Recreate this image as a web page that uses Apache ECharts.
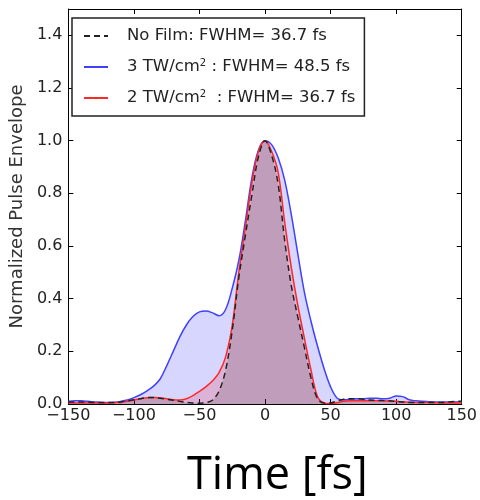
<!DOCTYPE html>
<html>
<head>
<meta charset="utf-8">
<script src="https://cdn.jsdelivr.net/npm/echarts@6/dist/echarts.min.js"></script>
<style>
html,body{margin:0;padding:0;background:#fff;}
#chart{width:480px;height:500px;}
</style>
</head>
<body>
<div id="chart"></div>
<script>
// Time axis (fs)
var timeFs = [-150,-145,-140,-135,-130,-125,-120,-115,-110,-105,-100,-95,-90,-85,-80,-75,-70,-65,-60,-55,-50,-45,-40,-35,-30,-25,-20,-15,-10,-5,0,5,10,15,20,25,30,35,40,45,50,55,60,65,70,75,80,85,90,95,100,105,110,115,120,125,130,135,140,145,150];

// 3 TW/cm2
var blueVals = [0.010,0.012,0.012,0.010,0.008,0.006,0.006,0.007,0.010,0.015,0.024,0.035,0.050,0.068,0.095,0.145,0.200,0.255,0.300,0.332,0.350,0.353,0.346,0.335,0.360,0.440,0.545,0.695,0.860,0.965,1.000,0.985,0.935,0.850,0.720,0.570,0.425,0.315,0.220,0.135,0.065,0.022,0.016,0.018,0.020,0.020,0.022,0.022,0.020,0.022,0.030,0.028,0.016,0.012,0.010,0.009,0.008,0.008,0.008,0.008,0.008];

// 2 TW/cm2
var redVals = [0.004,0.004,0.004,0.004,0.004,0.004,0.004,0.005,0.006,0.010,0.015,0.020,0.024,0.025,0.023,0.020,0.016,0.015,0.020,0.032,0.048,0.066,0.088,0.120,0.180,0.300,0.500,0.670,0.840,0.960,1.000,0.960,0.880,0.690,0.520,0.375,0.250,0.130,0.028,0.004,0.002,0.005,0.010,0.012,0.012,0.012,0.012,0.012,0.012,0.011,0.010,0.008,0.007,0.006,0.006,0.006,0.005,0.004,0.004,0.004,0.004];

// No film
var noFilmVals = [0.008,0.008,0.008,0.007,0.006,0.006,0.006,0.006,0.008,0.012,0.016,0.020,0.024,0.025,0.022,0.018,0.014,0.010,0.006,0.004,0.003,0.005,0.015,0.050,0.130,0.280,0.480,0.640,0.795,0.940,1.000,0.945,0.835,0.620,0.450,0.330,0.215,0.100,0.020,0.004,0.004,0.012,0.018,0.020,0.020,0.018,0.015,0.014,0.013,0.012,0.010,0.008,0.006,0.006,0.006,0.006,0.006,0.006,0.008,0.010,0.010];

var xTicks = [-150,-100,-50,0,50,100,150];
var yTicks = [0.0,0.2,0.4,0.6,0.8,1.0,1.2,1.4];

function pairs(vals){ return timeFs.map(function(t,i){ return [t, vals[i]]; }); }

var chart = echarts.init(document.getElementById('chart'), null, {renderer:'canvas'});
var tickFont = 'DejaVu Sans';
var axisBase = {
  min: xTicks[0], max: xTicks[xTicks.length-1], interval: 50
};
var option = {
  animation: false,
  backgroundColor: '#fff',
  grid: {left: 63, right: 16, top: 9, bottom: 96, containLabel: false},
  xAxis: [
    {type:'value', min: axisBase.min, max: axisBase.max, interval: axisBase.interval, position:'bottom',
     axisLine:{show:true, onZero:false, lineStyle:{color:'#000', width:1}},
     axisTick:{show:true, inside:true, length:5, lineStyle:{color:'#000'}},
     splitLine:{show:false},
     axisLabel:{color:'#222', fontSize:16, fontFamily:tickFont, margin:4,
       formatter:function(v){ return String(v).replace('-', '\u2212'); }}},
    {type:'value', min: axisBase.min, max: axisBase.max, interval: axisBase.interval, position:'top',
     axisLine:{show:true, onZero:false, lineStyle:{color:'#000', width:1}},
     axisTick:{show:true, inside:true, length:5, lineStyle:{color:'#000'}},
     splitLine:{show:false}, axisLabel:{show:false}}
  ],
  yAxis: [
    {type:'value', min:0, max:1.5, interval:0.2, position:'left',
     name:'Normalized Pulse Envelope', nameLocation:'middle', nameGap:38,
     nameTextStyle:{color:'#333', fontSize:18, fontFamily:tickFont},
     axisLine:{show:true, onZero:false, lineStyle:{color:'#000', width:1}},
     axisTick:{show:true, inside:true, length:5, lineStyle:{color:'#000'}},
     splitLine:{show:false},
     axisLabel:{color:'#222', fontSize:16, fontFamily:tickFont, margin:6, showMaxLabel:false,
       formatter:function(v){ return v.toFixed(1); }}},
    {type:'value', min:0, max:1.5, interval:0.2, position:'right',
     axisLine:{show:true, onZero:false, lineStyle:{color:'#000', width:1}},
     axisTick:{show:true, inside:true, length:5, lineStyle:{color:'#000'}},
     splitLine:{show:false}, axisLabel:{show:false}}
  ],
  legend: {
    orient:'vertical', left:72, top:18,
    data:['No Film','3 TW','2 TW'],
    backgroundColor:'#fff', borderColor:'#222', borderWidth:1.5,
    padding:[8,9,8,11], itemWidth:24, itemHeight:14, itemGap:11,
    itemStyle:{opacity:0},
    textStyle:{color:'#222', fontSize:16.5, fontFamily:tickFont, lineHeight:20,
      rich:{
        a:{fontSize:16.5, fontFamily:tickFont, color:'#222', padding:[0,0,0,14]},
        b:{fontSize:16.5, fontFamily:tickFont, color:'#222'},
        s:{fontSize:10, fontFamily:tickFont, color:'#222', padding:[0,0,8,0]}
      }},
    formatter:function(name){
      if(name==='No Film') return '{a|No Film: FWHM= 36.7 fs}';
      if(name==='3 TW') return '{a|3 TW/cm}{s|2}{b| : FWHM= 48.5 fs}';
      return '{a|2 TW/cm}{s|2}{b|  : FWHM= 36.7 fs}';
    }
  },
  graphic: [
    {type:'text', left:187, top:454, style:{text:'Time [fs]', font:'45px "Open Sans"', fill:'#000'}}
  ],
  series: [
    {name:'3 TW', type:'line', data:pairs(blueVals), smooth:0.35, symbol:'none', showSymbol:false,
     lineStyle:{color:'#4040ff', width:1.5}, itemStyle:{color:'#4040ff'},
     areaStyle:{color:'rgba(0,0,255,0.16)', opacity:1, origin:'start'}},
    {name:'2 TW', type:'line', data:pairs(redVals), smooth:0.35, symbol:'none', showSymbol:false,
     lineStyle:{color:'#ff2828', width:1.5}, itemStyle:{color:'#ff2828'},
     areaStyle:{color:'rgba(255,0,0,0.16)', opacity:1, origin:'start'}},
    {name:'No Film', type:'line', data:pairs(noFilmVals), smooth:0.35, symbol:'none', showSymbol:false,
     lineStyle:{color:'#222', width:1.5, type:[6,4]}, itemStyle:{color:'#222'},
     areaStyle:{color:'rgba(0,0,0,0.12)', opacity:1, origin:'start'}}
  ]
};
chart.setOption(option);
</script>
</body>
</html>
